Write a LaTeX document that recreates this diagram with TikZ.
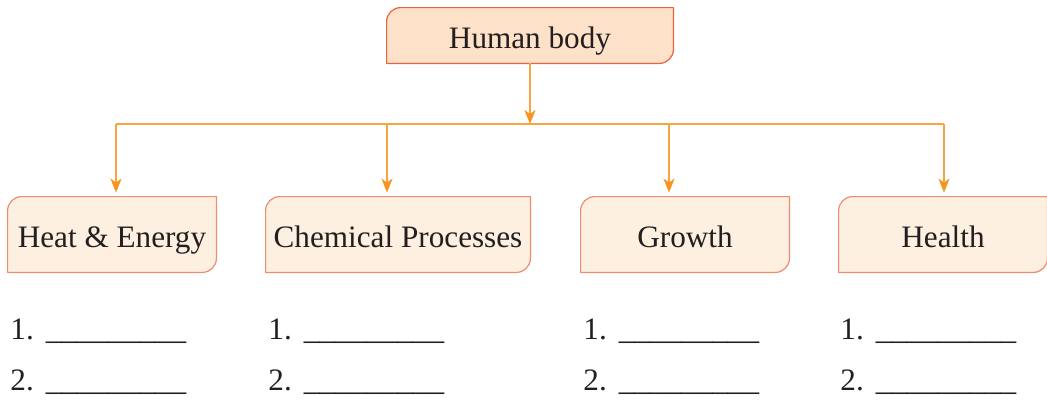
\documentclass[tikz,border=0pt]{standalone}
\usepackage{fontspec}
\setmainfont{Liberation Serif}
\usepackage{xcolor}
\definecolor{tiporange}{HTML}{F7941D}
\definecolor{lineorange}{HTML}{F9A441}
\definecolor{topfill}{HTML}{FDE1C8}
\definecolor{topdraw}{HTML}{E8643C}
\definecolor{leaffill}{HTML}{FDF0E1}
\definecolor{leafdraw}{HTML}{EE8C72}
\definecolor{inktext}{HTML}{231F20}
\usetikzlibrary{arrows.meta,positioning,backgrounds}
\newcommand{\answerline}{\_\_\_\_\_\_\_\_\_}
\tikzset{
  nb/.style={align=center, font=\fontsize{15.6}{18}\selectfont, inner sep=0pt, text=inktext},
  ntop/.style={nb, minimum width=143pt, minimum height=27.5pt, text height=16pt, text depth=3.5pt},
  nleaf/.style={nb, minimum width=104pt, minimum height=37.5pt, text height=16pt, text depth=3.5pt},
  cornerbox/.style={line width=0.6pt, line join=round},
  bus/.style={draw=lineorange, line width=0.9pt},
  ar/.style={-{Stealth[length=7pt,width=5.5pt,inset=2pt,color=tiporange]}, bus},
  blank/.style={nb, anchor=base west},
}

\begin{document}
\begin{tikzpicture}[x=0.5pt, y=-0.5pt]
  \useasboundingbox (0,0) rectangle (1047,402);
  \node[ntop] (body) at (530,35.5) {Human body};
  \node[nleaf] (heat) at (112,234.5) {Heat \& Energy};
  \node[nleaf, minimum width=132pt] (chem) at (398,234.5) {Chemical Processes};
  \node[nleaf] (grow) at (685,234.5) {Growth};
  \node[nleaf] (hlth) at (943,234.5) {Health};
  % rounded top-left / bottom-right outlines
  \begin{scope}[on background layer]
    \foreach \n/\f/\d in {body/topfill/topdraw, heat/leaffill/leafdraw, chem/leaffill/leafdraw,
                          grow/leaffill/leafdraw, hlth/leaffill/leafdraw}
      \draw[cornerbox, fill=\f, draw=\d] ([yshift=-7pt]\n.north west)
        arc[start angle=180, end angle=90, radius=7pt] -- (\n.north east)
        -- ([yshift=7pt]\n.south east) arc[start angle=0, end angle=-90, radius=7pt]
        -- (\n.south west) -- cycle;
  \end{scope}
  \coordinate (mid) at (530,124);
  \coordinate (j1) at (116,124);
  \coordinate (j2) at (387,124);
  \coordinate (j3) at (669,124);
  \coordinate (j4) at (944,124);
  \draw[ar] (body.south) -- (mid);
  \draw[bus] (j1) -- (j4);
  \foreach \j/\n in {j1/heat, j2/chem, j3/grow, j4/hlth}
    \draw[ar, shorten >=2pt] (\j) -- (\j |- \n.north);
  % answer blanks
  \foreach \x/\n in {10/heat, 268/chem, 583/grow, 840/hlth} {
    \node[blank] (\n1) at (\x,339) {1.\hspace{6pt}\answerline};
    \node[blank] (\n2) at (\x,390) {2.\hspace{6pt}\answerline};
  }
\end{tikzpicture}
\end{document}
